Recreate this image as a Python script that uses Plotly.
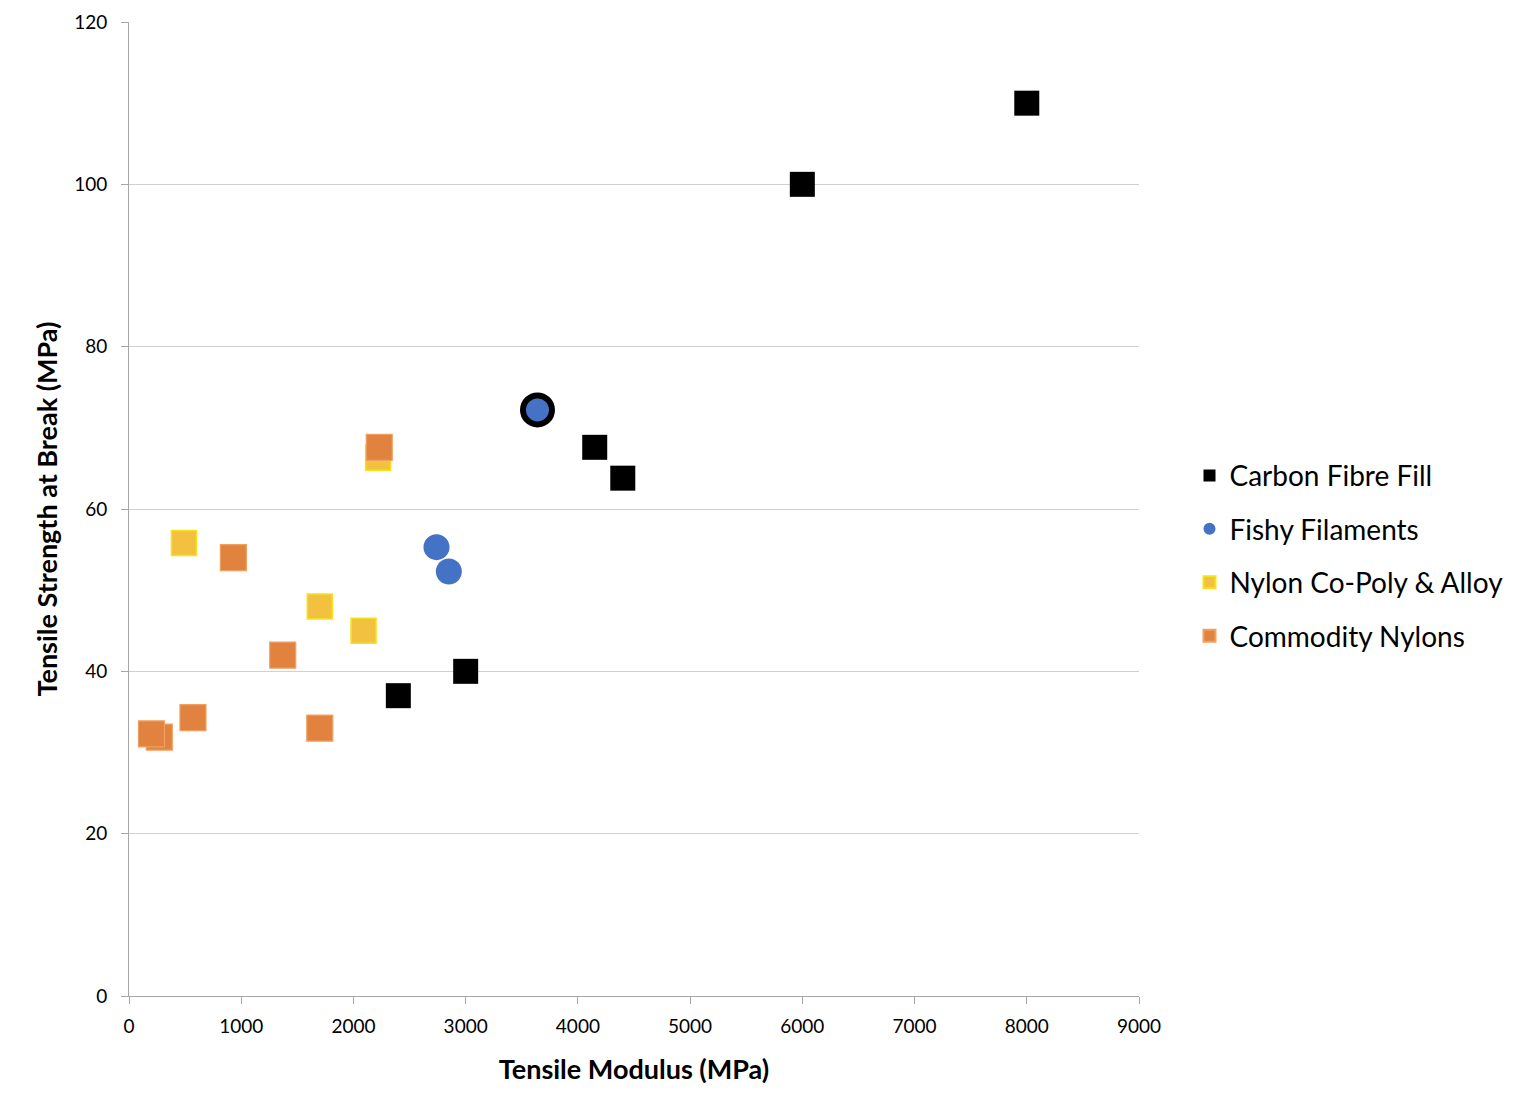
import plotly.graph_objects as go

# Data
carbon_x = [8000, 6000, 4150, 4400, 3000, 2400]
carbon_y = [110, 100, 67.6, 63.8, 40, 37]

fishy_x = [3640, 2740, 2850]
fishy_y = [72.2, 55.3, 52.3]
fishy_highlight = [0]  # index of outlined point

copoly_x = [490, 1700, 2090, 2220]
copoly_y = [55.8, 48, 45, 66.3]

commodity_x = [2230, 930, 1370, 570, 1700, 270, 200]
commodity_y = [67.6, 54, 42, 34.3, 33, 31.9, 32.3]

font_family = "Lato, Open Sans, sans-serif"

fig = go.Figure()
fig.add_trace(go.Scatter(
    x=carbon_x, y=carbon_y, mode="markers", name="Carbon Fibre Fill",
    legendgroup="g1",
    marker=dict(symbol="square", size=25, color="#000000", line=dict(width=0)),
))
fig.add_trace(go.Scatter(
    x=fishy_x, y=fishy_y, mode="markers", name="Fishy Filaments",
    legendgroup="g2",
    marker=dict(symbol="circle", size=26, color="#4472C4", line=dict(width=0)),
))
fig.add_trace(go.Scatter(
    x=[fishy_x[i] for i in fishy_highlight],
    y=[fishy_y[i] for i in fishy_highlight],
    mode="markers", name="Fishy Filaments", legendgroup="g2", showlegend=False,
    marker=dict(symbol="circle", size=29, color="#4472C4",
                line=dict(width=6, color="#000000")),
))
fig.add_trace(go.Scatter(
    x=copoly_x, y=copoly_y, mode="markers", name="Nylon Co-Poly & Alloy",
    legendgroup="g3",
    marker=dict(symbol="square", size=25, color="#F2C140",
                line=dict(width=1.5, color="#F7E21A")),
))
fig.add_trace(go.Scatter(
    x=commodity_x, y=commodity_y, mode="markers", name="Commodity Nylons",
    legendgroup="g4",
    marker=dict(symbol="square", size=26, color="#E2823F",
                line=dict(width=1.2, color="#F0A060")),
))

fig.update_layout(
    width=1536, height=1114,
    paper_bgcolor="white", plot_bgcolor="white",
    margin=dict(l=121, r=405, t=14, b=126),
    font=dict(family=font_family, color="#000000"),
    showlegend=True,
    legend=dict(
        x=1.05, y=0.452, xanchor="left", yanchor="middle",
        font=dict(size=28, family=font_family, color="#000000"),
        itemsizing="constant", tracegroupgap=14,
        bgcolor="rgba(0,0,0,0)",
    ),
    xaxis=dict(
        range=[0, 9000], dtick=1000, tick0=0, automargin=False,
        showgrid=False, zeroline=False,
        showline=True, linecolor="#A6A6A6", linewidth=1,
        ticks="outside", ticklen=7, tickcolor="#A6A6A6",
        ticklabelstandoff=6,
        tickfont=dict(size=19, family=font_family, color="#000000"),
        title=dict(text="<b>Tensile Modulus (MPa)</b>",
                   font=dict(size=27, family=font_family, color="#000000"),
                   standoff=24),
    ),
    yaxis=dict(
        range=[0, 120], dtick=20, tick0=0, automargin=False,
        showgrid=True, gridcolor="#D0D0D0", gridwidth=1,
        zeroline=False,
        showline=True, linecolor="#A6A6A6", linewidth=1,
        ticks="outside", ticklen=7, tickcolor="#A6A6A6",
        ticklabelstandoff=10,
        tickfont=dict(size=19, family=font_family, color="#000000"),
        title=dict(text="<b>Tensile Strength at Break (MPa)</b>",
                   font=dict(size=27, family=font_family, color="#000000"),
                   standoff=8),
    ),
)

fig.write_html("out.html")
